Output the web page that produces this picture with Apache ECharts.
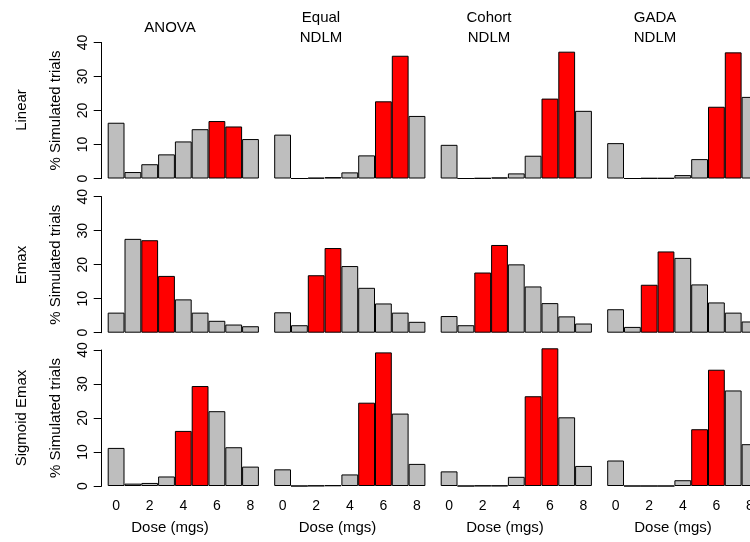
<!DOCTYPE html>
<html><head><meta charset="utf-8">
<script src="https://cdn.jsdelivr.net/npm/echarts@6/dist/echarts.min.js"></script>
<style>html,body{margin:0;padding:0;background:#fff}#c{width:750px;height:542px}</style>
</head><body><div id="c"></div>
<script>
const doses = ['0','1','2','3','4','5','6','7','8'];
const models = ['ANOVA','Equal\nNDLM','Cohort\nNDLM','GADA\nNDLM'];
const scenarios = ['Linear','Emax','Sigmoid Emax'];
const yTicks = [0,10,20,30,40];
const xTitle = 'Dose (mgs)';
const yTitle = '% Simulated trials';

const linearAnova  = [16.4,1.9,4.2,7.1,10.9,14.5,16.9,15.3,11.6];
const linearEqual  = [12.9,0,0.2,0.4,1.8,6.8,22.7,36.1,18.4];
const linearCohort = [9.9,0,0.1,0.3,1.5,6.7,23.5,37.3,19.9];
const linearGada   = [10.4,0,0.1,0.1,1.0,5.7,21.1,37.1,24.0];
const emaxAnova    = [5.9,27.6,27.2,16.7,9.8,5.9,3.5,2.4,1.9];
const emaxEqual    = [6.0,2.2,16.9,24.9,19.6,13.2,8.6,5.9,3.2];
const emaxCohort   = [4.9,2.2,17.7,25.8,20.1,13.6,8.7,4.8,2.7];
const emaxGada     = [6.9,1.7,14.1,23.9,22.0,14.2,8.9,5.9,3.3];
const sigAnova     = [11.2,0.7,0.9,2.8,16.2,29.4,22.0,11.4,5.7];
const sigEqual     = [4.9,0,0.1,0.2,3.4,24.5,39.3,21.3,6.5];
const sigCohort    = [4.3,0,0.1,0.1,2.7,26.4,40.5,20.2,5.9];
const sigGada      = [7.5,0,0,0,1.7,16.7,34.2,28.1,12.3];

// highlighted (target) dose indices per panel
const redLinear = [[6,7],[6,7],[6,7],[6,7]];
const redEmax   = [[2,3],[2,3],[2,3],[2,3]];
const redSig    = [[4,5],[5,6],[5,6],[5,6]];

const values = [
  [linearAnova, linearEqual, linearCohort, linearGada],
  [emaxAnova, emaxEqual, emaxCohort, emaxGada],
  [sigAnova, sigEqual, sigCohort, sigGada]
];
const reds = [redLinear, redEmax, redSig];

const FONT = '"Liberation Sans", Arial, Helvetica, sans-serif';
const colLeft = [107.7, 274.2, 440.7, 607.2];
const rowTop = [42.5, 196.7, 350];
const gridW = 151.2, gridH = 136;
const colTitleX = [170, 321, 489, 655];
const doseTitleX = [170, 337.5, 505, 673];
const rowLabelY = [110, 265, 418];

const grids = [], xAxes = [], yAxes = [], series = [], graphics = [];
let k = 0;
for (let r = 0; r < 3; r++) {
  for (let c = 0; c < 4; c++) {
    grids.push({left: colLeft[c], top: rowTop[r], width: gridW, height: gridH,
                containLabel: false, outerBoundsMode: 'none'});
    const bottomRow = r === 2;
    xAxes.push({
      type: 'category', gridIndex: k, data: doses, boundaryGap: true,
      axisLine: {show: false}, axisTick: {show: false},
      axisLabel: {show: bottomRow, interval: 1, margin: 13, fontSize: 14, color: '#000', fontFamily: FONT,
                  hideOverlap: false}
    });
    const firstCol = c === 0;
    yAxes.push({
      type: 'value', gridIndex: k, min: yTicks[0], max: yTicks[yTicks.length-1], interval: 10,
      show: firstCol, offset: 6, splitLine: {show: false},
      axisLine: {show: true, lineStyle: {color: '#000', width: 1}},
      axisTick: {show: true, length: 8, lineStyle: {color: '#000'}},
      axisLabel: {rotate: 90, margin: 12, fontSize: 14, color: '#000', fontFamily: FONT},
      name: yTitle, nameLocation: 'middle', nameRotate: 90, nameGap: 38,
      nameTextStyle: {fontSize: 15, color: '#000', fontFamily: FONT}
    });
    const vals = values[r][c], red = reds[r][c];
    series.push({
      type: 'bar', xAxisIndex: k, yAxisIndex: k, barCategoryGap: '0%', clip: false,
      data: vals.map((v, i) => ({value: v, itemStyle: {color: red.includes(i) ? '#FF0000' : '#BEBEBE'}})),
      itemStyle: {borderColor: '#000', borderWidth: 1},
      emphasis: {disabled: true}, animation: false
    });
    k++;
  }
}
for (let c = 0; c < 4; c++) {
  graphics.push({type: 'text', x: colTitleX[c], y: 28,
    style: {text: models[c], font: '15px ' + FONT, fill: '#000', textAlign: 'center', textVerticalAlign: 'middle', lineHeight: 20}});
  graphics.push({type: 'text', x: doseTitleX[c], y: 528,
    style: {text: xTitle, font: '15px ' + FONT, fill: '#000', textAlign: 'center', textVerticalAlign: 'middle'}});
}
for (let r = 0; r < 3; r++) {
  graphics.push({type: 'text', x: 22, y: rowLabelY[r], rotation: Math.PI/2,
    style: {text: scenarios[r], font: '15px ' + FONT, fill: '#000', textAlign: 'center', textVerticalAlign: 'middle'}});
}

const chart = echarts.init(document.getElementById('c'), null, {renderer: 'canvas'});
chart.setOption({
  animation: false, backgroundColor: '#fff',
  grid: grids, xAxis: xAxes, yAxis: yAxes, series: series, graphic: graphics
});
</script></body></html>
